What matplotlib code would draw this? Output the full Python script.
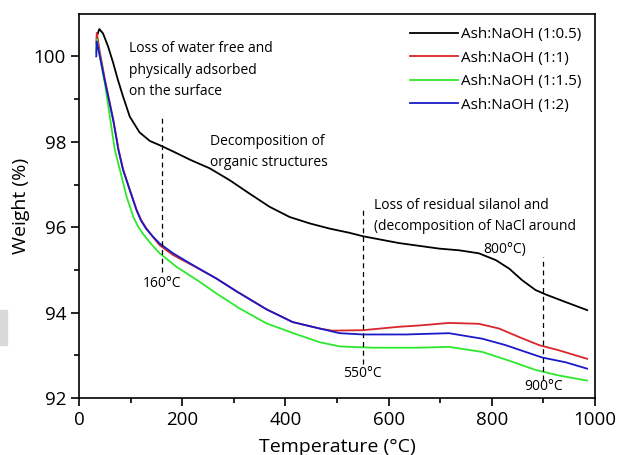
import numpy as np
import matplotlib.pyplot as plt
from matplotlib.patches import Rectangle

plt.rcParams['font.family'] = ['Open Sans', 'DejaVu Sans']

# TGA curves (temperature in °C, weight in %)
t_black = [35, 39, 46, 56, 66, 75, 85, 98, 117, 137, 160, 188, 215, 253, 292, 330, 369,
           408, 447, 485, 524, 550, 620, 698, 737, 775, 808, 834, 859, 885, 904, 943, 985]
w_black = [100.5, 100.64, 100.54, 100.23, 99.84, 99.45, 99.06, 98.59, 98.22, 98.02, 97.9,
           97.74, 97.58, 97.38, 97.1, 96.79, 96.48, 96.24, 96.09, 95.97, 95.87, 95.79,
           95.63, 95.5, 95.46, 95.39, 95.23, 95.03, 94.76, 94.53, 94.43, 94.25, 94.06]

t_blue = [33, 34, 40, 50, 66, 76, 85, 98, 111, 120, 130, 143, 156, 182, 221, 266, 305,
          363, 414, 466, 505, 550, 634, 717, 782, 827, 866, 898, 943, 985]
w_blue = [100.0, 100.35, 100.0, 99.4, 98.5, 97.81, 97.34, 96.87, 96.4, 96.15, 95.96, 95.78,
          95.62, 95.39, 95.11, 94.8, 94.5, 94.08, 93.78, 93.63, 93.52, 93.49, 93.49,
          93.52, 93.39, 93.24, 93.08, 92.95, 92.84, 92.69]

t_red = [33, 34, 40, 50, 66, 76, 85, 98, 111, 120, 130, 143, 156, 182, 221, 266, 305,
         363, 414, 466, 490, 550, 620, 659, 717, 775, 814, 853, 892, 930, 985]
w_red = [100.3, 100.55, 100.1, 99.45, 98.52, 97.83, 97.36, 96.88, 96.42, 96.17, 95.98,
         95.77, 95.58, 95.35, 95.1, 94.8, 94.5, 94.08, 93.78, 93.63, 93.58, 93.59, 93.67,
         93.7, 93.76, 93.74, 93.63, 93.43, 93.24, 93.12, 92.92]

t_green = [33, 34, 40, 50, 69, 79, 92, 105, 114, 124, 140, 156, 189, 234, 266, 311, 363,
           427, 466, 505, 569, 659, 717, 782, 833, 885, 930, 985]
w_green = [100.1, 100.4, 100.0, 99.35, 97.81, 97.34, 96.71, 96.24, 96.02, 95.84, 95.6,
           95.39, 95.07, 94.72, 94.45, 94.1, 93.75, 93.47, 93.31, 93.21, 93.18, 93.18,
           93.2, 93.08, 92.88, 92.66, 92.53, 92.41]

labels = ['Ash:NaOH (1:0.5)', 'Ash:NaOH (1:1)', 'Ash:NaOH (1:1.5)', 'Ash:NaOH (1:2)']
colors = ['black', '#d8262b', '#2ee82e', '#1a1ac8']

# dashed markers: temperature, top, bottom, label y
marks_t = [160, 550, 900]
marks_top = [98.56, 96.4, 95.3]
marks_bot = [94.95, 92.81, 92.42]
marks_lbl_y = [94.68, 92.58, 92.28]

fig = plt.figure(figsize=(6.19, 4.55), dpi=100)
ax = fig.add_axes([0.128, 0.125, 0.833, 0.845])

for t, w, lab, c in zip([t_black, t_red, t_green, t_blue],
                        [w_black, w_red, w_green, w_blue], labels, colors):
    ax.plot(t, w, color=c, lw=1.3, label=lab)

for t, top, bot, ly in zip(marks_t, marks_top, marks_bot, marks_lbl_y):
    ax.plot([t, t], [bot, top], color='black', lw=0.9, ls=(0, (4, 3)))
    ax.text(t, ly, f'{t}°C', ha='center', va='center', fontsize=10)

ax.text(96, 99.68, 'Loss of water free and\nphysically adsorbed\non the surface',
        fontsize=10, va='center', linespacing=1.55)
ax.text(253, 97.76, 'Decomposition of\norganic structures', fontsize=10,
        va='center', linespacing=1.55)
ax.text(572, 96.26, 'Loss of residual silanol and\n(decomposition of NaCl around',
        fontsize=10, va='center', linespacing=1.55)
ax.text(825, 95.48, '800°C)', fontsize=10, ha='center', va='center')

ax.set_xlim(0, 1000)
ax.set_ylim(92, 101)
ax.set_xticks([0, 200, 400, 600, 800, 1000])
ax.set_yticks([92, 94, 96, 98, 100])
ax.set_xticks(np.arange(100, 1000, 200), minor=True)
ax.set_yticks([93, 95, 97, 99], minor=True)
ax.tick_params(which='major', direction='out', length=6, width=1.2, labelsize=13.5)
ax.tick_params(which='minor', direction='out', length=3.5, width=1.2)
for s in ax.spines.values():
    s.set_linewidth(1.2)
ax.set_xlabel('Temperature (°C)', fontsize=14, labelpad=6)
ax.set_ylabel('Weight (%)', fontsize=14, labelpad=3)

ax.legend(loc='upper right', frameon=False, fontsize=11, handlelength=3.2,
          handletextpad=0.15, labelspacing=0.55, borderaxespad=0.5,
          borderpad=0.4)

fig.patches.append(Rectangle((0, 0.242), 0.012, 0.077, transform=fig.transFigure,
                             color='#d9d9d9', zorder=0))

fig.savefig('out.png', dpi=100)
